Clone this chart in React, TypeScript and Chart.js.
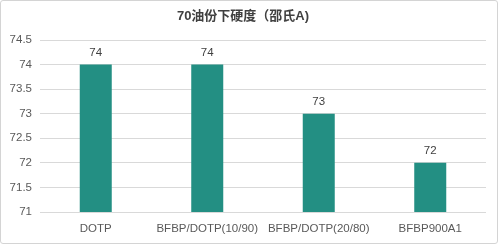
import React, { useEffect, useRef } from "react";
import { Chart, registerables } from "chart.js";

Chart.register(...registerables);

const TITLE = "70油份下硬度（邵氏A)";
const categories = ["DOTP", "BFBP/DOTP(10/90)", "BFBP/DOTP(20/80)", "BFBP900A1"];
const hardness = [74, 74, 73, 72];
const yMin = 71;
const yMax = 74.5;
const yStep = 0.5;

const FONT = "'Liberation Sans', Arial, 'Noto Sans CJK SC', sans-serif";

const valueLabels = {
  id: "valueLabels",
  afterDatasetsDraw(chart: any) {
    const ctx = chart.ctx;
    const meta = chart.getDatasetMeta(0);
    ctx.save();
    ctx.font = `11.5px ${FONT}`;
    ctx.fillStyle = "#404040";
    ctx.textAlign = "center";
    ctx.textBaseline = "middle";
    meta.data.forEach((el: any, i: number) => {
      ctx.fillText(String(chart.data.datasets[0].data[i]), el.x, el.y - 12);
    });
    ctx.restore();
  },
};

export default function App() {
  const ref = useRef<HTMLCanvasElement | null>(null);
  useEffect(() => {
    document.body.style.margin = "0";
    if (!ref.current) return;
    const chart = new Chart(ref.current, {
      type: "bar",
      data: {
        labels: categories,
        datasets: [
          {
            data: hardness,
            backgroundColor: "#238F83",
            barPercentage: 0.287,
            categoryPercentage: 1,
          },
        ],
      },
      options: {
        animation: false,
        responsive: false,
        maintainAspectRatio: false,
        layout: { padding: { left: 0, right: 12, top: 0, bottom: 0 } },
        plugins: {
          legend: { display: false },
          tooltip: { enabled: false },
          title: {
            display: true,
            text: TITLE,
            color: "#404040",
            font: { family: FONT, size: 13, weight: "bold" },
            padding: { top: 9, bottom: 15.4 },
          },
        },
        scales: {
          x: {
            grid: { display: false, drawTicks: false },
            border: { display: false },
            ticks: {
              color: "#595959",
              font: { family: FONT, size: 11.5 },
              padding: 10,
              maxRotation: 0,
              autoSkip: false,
            },
            afterFit: (s: any) => {
              s.height = 32;
            },
          },
          y: {
            min: yMin,
            max: yMax,
            grid: { color: "#d9d9d9", drawTicks: false },
            border: { display: false },
            ticks: {
              stepSize: yStep,
              color: "#595959",
              font: { family: FONT, size: 11.5 },
              padding: 8,
              callback: (v: any) => String(Math.round(Number(v) * 10) / 10),
            },
            afterFit: (s: any) => {
              s.width = 40;
            },
          },
        },
      },
      plugins: [valueLabels],
    });
    return () => chart.destroy();
  }, []);
  return (
    <div style={{ position: "relative", width: 498, height: 244, background: "#fff" }}>
      <canvas ref={ref} width={498} height={244} style={{ display: "block" }} />
      <div
        style={{
          position: "absolute",
          left: 0,
          top: 0,
          width: 498,
          height: 244,
          boxSizing: "border-box",
          border: "1px solid #d4d4d4",
          borderRadius: 3,
          pointerEvents: "none",
        }}
      />
    </div>
  );
}
